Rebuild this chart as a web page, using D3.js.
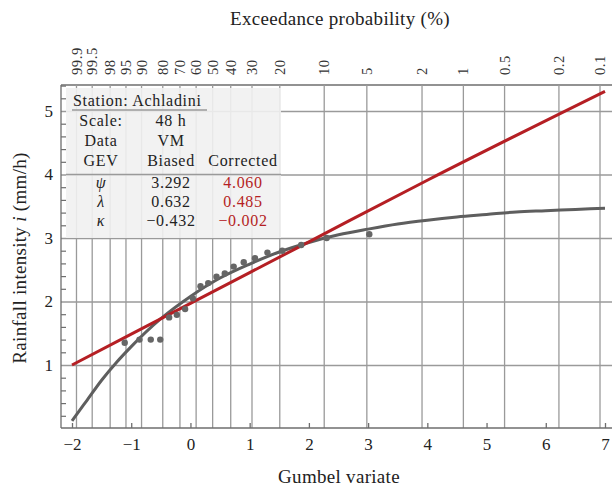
<!DOCTYPE html>
<html><head><meta charset="utf-8">
<script src="https://cdn.jsdelivr.net/npm/d3@7"></script>
<style>
html,body{margin:0;padding:0;background:#fff;}
text{font-family:"Liberation Serif","Times New Roman",serif;fill:#222;}
</style></head>
<body>
<svg id="chart" width="615" height="489"></svg>
<script>
// ---- data ----
const probs = [99.9, 99.5, 98, 95, 90, 80, 70, 60, 50, 40, 30, 20, 10, 5, 2, 1, 0.5, 0.2, 0.1];
const probLabels = ["99.9","99.5","98","95","90","80","70","60","50","40","30","20","10","5","2","1","0.5","0.2","0.1"];
const xTicks = [-2, -1, 0, 1, 2, 3, 4, 5, 6, 7];
const yTicks = [1, 2, 3, 4, 5];
// observed points (Gumbel variate, intensity)
const obsX = [-1.11, -0.86, -0.67, -0.51, -0.36, -0.23, -0.09, 0.04, 0.17, 0.30, 0.44, 0.58, 0.73, 0.90, 1.09, 1.30, 1.55, 1.87, 2.30, 3.02];
const obsY = [1.35, 1.40, 1.40, 1.40, 1.75, 1.79, 1.88, 2.05, 2.24, 2.29, 2.39, 2.44, 2.55, 2.62, 2.68, 2.77, 2.80, 2.89, 3.00, 3.06];
// biased GEV curve (grey)
const biasX = [-2, -1.75, -1.5, -1.25, -1, -0.5, 0, 0.5, 1, 1.5, 2, 2.5, 3, 3.5, 4, 4.5, 5, 5.5, 6, 6.5, 7];
const biasY = [0.12, 0.44, 0.76, 1.04, 1.29, 1.73, 2.08, 2.37, 2.59, 2.78, 2.93, 3.05, 3.14, 3.22, 3.28, 3.33, 3.37, 3.41, 3.43, 3.45, 3.47];
// corrected GEV curve (red)
const corrX = [-2, 0, 2, 4, 7];
const corrY = [1.00, 1.97, 2.94, 3.91, 5.31];
// table
const tableRows = [
  ["Scale:", "48 h", ""],
  ["Data", "VM", ""],
  ["GEV", "Biased", "Corrected"],
  ["ψ", "3.292", "4.060"],
  ["λ", "0.632", "0.485"],
  ["κ", "−0.432", "−0.002"]
];

// ---- layout ----
const svg = d3.select("#chart");
const L = 61, R = 612, T = 85, B = 428;
const x = d3.scaleLinear().domain([-2, 7]).range([72, 605]);
const y = d3.scaleLinear().domain([0, 5]).range([428.5, 111]);
const gumbel = p => -Math.log(-Math.log(1 - p / 100));
const gridCol = "#9a9a9a", axisCol = "#6e6e6e";

// horizontal gridlines
const hg = svg.append("g").attr("transform", `translate(${L},0)`)
  .call(d3.axisLeft(y).tickValues(yTicks).tickSize(-(R - L)).tickFormat(""));
hg.select(".domain").remove();
hg.selectAll("line").attr("stroke", gridCol).attr("stroke-width", 1.3);

// top axis with vertical gridlines
const tg = svg.append("g").attr("transform", `translate(0,${T})`)
  .call(d3.axisTop(x).tickValues(probs.map(gumbel)).tickSizeInner(-(B - T)).tickSizeOuter(0)
    .tickFormat((d, i) => probLabels[i]));
tg.select(".domain").attr("d", `M${L},0H${R}`).attr("stroke", axisCol).attr("stroke-width", 1.3);
tg.selectAll(".tick line").attr("stroke", gridCol).attr("stroke-width", 1.3);
tg.selectAll(".tick text")
  .attr("transform", "rotate(-90)")
  .attr("x", 10).attr("y", 0).attr("dy", "0.35em")
  .attr("text-anchor", "start")
  .style("font-size", "14.5px").style("letter-spacing", "0.6px").style("fill", "#333");

// table background box
svg.append("rect").attr("x", 66).attr("y", 88).attr("width", 215).attr("height", 150)
  .attr("fill", "#f1f1f1").attr("fill-opacity", 0.9);
svg.append("line").attr("x1", 72).attr("x2", 207).attr("y1", 110).attr("y2", 110)
  .attr("stroke", gridCol).attr("stroke-width", 1.3);
svg.append("line").attr("x1", 66).attr("x2", 281).attr("y1", y(4)).attr("y2", y(4))
  .attr("stroke", gridCol).attr("stroke-width", 1.3);

// bottom axis
const bg = svg.append("g").attr("transform", `translate(0,${B})`)
  .call(d3.axisBottom(x).tickValues(xTicks).tickSizeInner(-5).tickSizeOuter(0).tickPadding(10)
    .tickFormat(d => d < 0 ? "\u2212" + Math.abs(d) : String(d)));
bg.select(".domain").attr("d", `M${L},0H${R}`).attr("stroke", axisCol).attr("stroke-width", 1.3);
bg.selectAll(".tick line").attr("stroke", axisCol).attr("stroke-width", 1.3);
bg.selectAll(".tick text").style("font-size", "17px").style("fill", "#222");

// left axis
const lg = svg.append("g").attr("transform", `translate(${L},0)`)
  .call(d3.axisLeft(y).tickValues(yTicks).tickSize(0).tickPadding(8).tickFormat(d3.format("d")));
lg.select(".domain").attr("d", `M0,${T}V${B}`).attr("stroke", axisCol).attr("stroke-width", 1.3);
lg.selectAll(".tick text").style("font-size", "17px").style("fill", "#222");
const minor = d3.range(1, 28).map(k => k * 0.2).filter(v => Math.abs(v - Math.round(v)) > 1e-6);
const mg = svg.append("g").attr("transform", `translate(${L},0)`)
  .call(d3.axisLeft(y).tickValues(minor).tickSize(-5).tickFormat(""));
mg.select(".domain").remove();
mg.selectAll("line").attr("stroke", axisCol).attr("stroke-width", 1.2);

// curves
const line = d3.line().x(d => x(d[0])).y(d => y(d[1])).curve(d3.curveMonotoneX);
svg.append("path").datum(biasX.map((v, i) => [v, biasY[i]]))
  .attr("d", line).attr("fill", "none").attr("stroke", "#5e5e5e").attr("stroke-width", 3);
svg.append("path").datum(corrX.map((v, i) => [v, corrY[i]]))
  .attr("d", line).attr("fill", "none").attr("stroke", "#b51f24").attr("stroke-width", 3);

// points
svg.append("g").selectAll("circle").data(obsX.map((v, i) => [v, obsY[i]])).join("circle")
  .attr("cx", d => x(d[0])).attr("cy", d => y(d[1])).attr("r", 3.2).attr("fill", "#666");

// table text
const tt = svg.append("g").style("font-size", "16px").style("letter-spacing", "0.7px");
tt.append("text").attr("x", 73).attr("y", 106).text("Station: Achladini");
const rowY = [126, 146, 166, 188, 207, 226];
const colX = [101, 171, 243];
tableRows.forEach((row, r) => {
  row.forEach((c, k) => {
    if (!c) return;
    const t = tt.append("text").attr("x", colX[k]).attr("y", rowY[r]).attr("text-anchor", "middle").text(c);
    if (k === 2 && r >= 3) t.style("fill", "#b51f24");
    if (k === 0 && r >= 3) t.style("font-style", "italic");
  });
});

// axis titles
svg.append("text").attr("x", 340).attr("y", 25).attr("text-anchor", "middle")
  .style("font-size", "19px").style("letter-spacing", "0.3px").text("Exceedance probability (%)");
svg.append("text").attr("x", 339).attr("y", 483).attr("text-anchor", "middle")
  .style("font-size", "19px").style("letter-spacing", "0.3px").text("Gumbel variate");
const yl = svg.append("text").attr("transform", "translate(26,258) rotate(-90)").attr("text-anchor", "middle")
  .style("font-size", "19px").style("letter-spacing", "0.3px");
yl.append("tspan").text("Rainfall intensity ");
yl.append("tspan").style("font-style", "italic").text("i");
yl.append("tspan").text(" (mm/h)");
</script>
</body></html>
